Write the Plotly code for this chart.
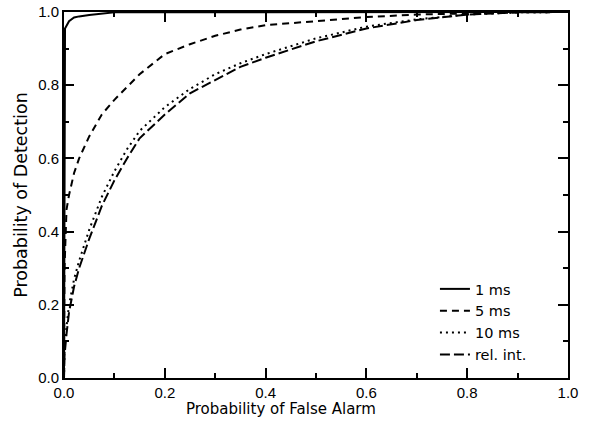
import plotly.graph_objects as go

# ---- data ----
pfa_1ms = [0.0, 0.0005, 0.002, 0.01, 0.02, 0.03, 0.05, 0.1, 0.5, 1.0]
pd_1ms = [0.0, 0.80, 0.955, 0.975, 0.985, 0.988, 0.992, 0.999, 1.0, 1.0]

pfa = [0.0, 0.001, 0.005, 0.01, 0.02, 0.03, 0.05, 0.075, 0.1, 0.125, 0.15, 0.2,
       0.25, 0.3, 0.35, 0.4, 0.5, 0.6, 0.7, 0.8, 0.9, 1.0]
pd_5ms = [0.0, 0.30, 0.46, 0.50, 0.56, 0.60, 0.66, 0.72, 0.76, 0.795, 0.83, 0.885,
          0.912, 0.935, 0.952, 0.964, 0.976, 0.986, 0.993, 0.997, 0.999, 1.0]
pd_10ms = [0.0, 0.07, 0.14, 0.20, 0.27, 0.32, 0.405, 0.495, 0.565, 0.625, 0.675, 0.74,
           0.79, 0.83, 0.86, 0.885, 0.928, 0.96, 0.98, 0.993, 0.999, 1.0]
pd_relint = [0.0, 0.06, 0.12, 0.18, 0.25, 0.30, 0.38, 0.47, 0.54, 0.60, 0.655, 0.72,
             0.778, 0.815, 0.85, 0.875, 0.92, 0.955, 0.978, 0.993, 0.999, 1.0]

series_names = ["1 ms", "5 ms", "10 ms", "rel. int."]

tick_vals = [0.0, 0.2, 0.4, 0.6, 0.8, 1.0]
tick_text = ["0.0", "0.2", "0.4", "0.6", "0.8", "1.0"]

x_title = "Probability of False Alarm"
y_title = "Probability of Detection"

FONT = "DejaVu Sans"
TICKFONT = "Liberation Sans"

fig = go.Figure()
fig.add_trace(go.Scatter(x=pfa_1ms, y=pd_1ms, mode="lines", name=series_names[0],
                         line=dict(color="black", width=2, dash="solid")))
fig.add_trace(go.Scatter(x=pfa, y=pd_5ms, mode="lines", name=series_names[1],
                         line=dict(color="black", width=2, dash="7px,5px")))
fig.add_trace(go.Scatter(x=pfa, y=pd_10ms, mode="lines", name=series_names[2],
                         line=dict(color="black", width=2, dash="2px,4px")))
fig.add_trace(go.Scatter(x=pfa, y=pd_relint, mode="lines", name=series_names[3],
                         line=dict(color="black", width=2, dash="10px,4px")))

axis_common = dict(
    range=[0, 1], tickvals=tick_vals, ticktext=tick_text,
    ticks="inside", ticklen=10, tickwidth=2, tickcolor="black",
    showline=True, linecolor="black", linewidth=2, mirror="ticks",
    showgrid=False, zeroline=False, automargin=False,
    minor=dict(ticks="inside", ticklen=5, tickwidth=2, tickcolor="black",
               dtick=0.1, showgrid=False),
    tickfont=dict(family=TICKFONT, size=15, color="black"),
)

fig.update_layout(
    width=592, height=422,
    margin=dict(l=64, r=24, t=12, b=44),
    paper_bgcolor="white", plot_bgcolor="white",
    font=dict(family=FONT, size=14, color="black"),
    xaxis=axis_common,
    yaxis=dict(axis_common, title=dict(text=y_title,
                                       font=dict(family=FONT, size=17.5), standoff=6)),
    showlegend=True,
    legend=dict(x=0.736, y=0.287, xanchor="left", yanchor="top",
                bgcolor="rgba(0,0,0,0)", borderwidth=0,
                font=dict(family=FONT, size=14.5), tracegroupgap=0,
                itemwidth=30),
)

# x-axis title sits left of centre in the reference
fig.add_annotation(text=x_title, xref="paper", yref="paper", x=0.43, y=0,
                   xanchor="center", yanchor="top", yshift=-20, showarrow=False,
                   font=dict(family=FONT, size=15, color="black"))

# remove the default 8px page margin so the figure fills the window exactly
fig.write_html("out.html",
               config={"displayModeBar": False},
               post_script="document.body.style.margin='0';document.body.style.overflow='hidden';")
